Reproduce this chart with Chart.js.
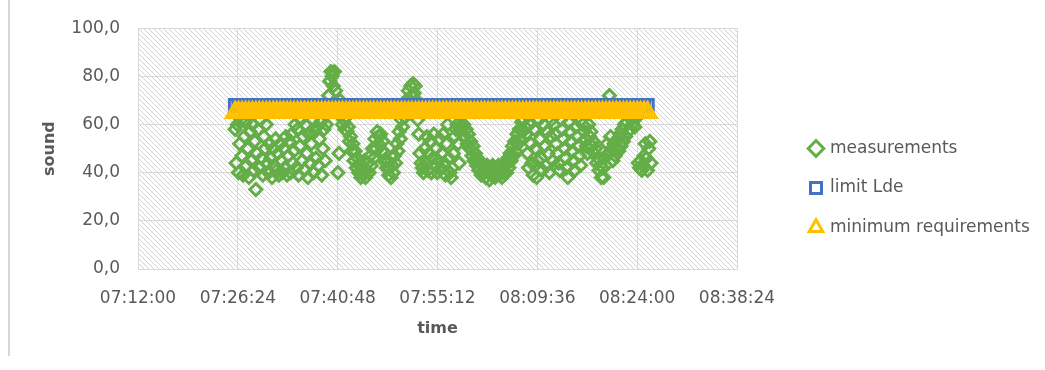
<!DOCTYPE html>
<html>
<head>
<meta charset="utf-8">
<script src="https://cdn.jsdelivr.net/npm/chart.js@4.4.0/dist/chart.umd.min.js"></script>
<style>
  body { margin: 0; background: #fff; }
  #wrap { position: relative; width: 1045px; height: 370px; }
  #edge { position: absolute; left: 8px; top: 0; width: 2px; height: 356px; background: #d6d6d6; }
  canvas { position: absolute; left: 0; top: 0; }
</style>
</head>
<body>
<div id="wrap"><div id="edge"></div><canvas id="soundChart" width="1045" height="370"></canvas></div>
<script>
// measurement times (every 10 s), one row per minute
const times = [
    '07:26:00', '07:26:10', '07:26:20', '07:26:30', '07:26:40', '07:26:50',
    '07:27:00', '07:27:10', '07:27:20', '07:27:30', '07:27:40', '07:27:50',
    '07:28:00', '07:28:10', '07:28:20', '07:28:30', '07:28:40', '07:28:50',
    '07:29:00', '07:29:10', '07:29:20', '07:29:30', '07:29:40', '07:29:50',
    '07:30:00', '07:30:10', '07:30:20', '07:30:30', '07:30:40', '07:30:50',
    '07:31:00', '07:31:10', '07:31:20', '07:31:30', '07:31:40', '07:31:50',
    '07:32:00', '07:32:10', '07:32:20', '07:32:30', '07:32:40', '07:32:50',
    '07:33:00', '07:33:10', '07:33:20', '07:33:30', '07:33:40', '07:33:50',
    '07:34:00', '07:34:10', '07:34:20', '07:34:30', '07:34:40', '07:34:50',
    '07:35:00', '07:35:10', '07:35:20', '07:35:30', '07:35:40', '07:35:50',
    '07:36:00', '07:36:10', '07:36:20', '07:36:30', '07:36:40', '07:36:50',
    '07:37:00', '07:37:10', '07:37:20', '07:37:30', '07:37:40', '07:37:50',
    '07:38:00', '07:38:10', '07:38:20', '07:38:30', '07:38:40', '07:38:50',
    '07:39:00', '07:39:10', '07:39:20', '07:39:30', '07:39:40', '07:39:50',
    '07:40:00', '07:40:10', '07:40:20', '07:40:30', '07:40:40', '07:40:50',
    '07:41:00', '07:41:10', '07:41:20', '07:41:30', '07:41:40', '07:41:50',
    '07:42:00', '07:42:10', '07:42:20', '07:42:30', '07:42:40', '07:42:50',
    '07:43:00', '07:43:10', '07:43:20', '07:43:30', '07:43:40', '07:43:50',
    '07:44:00', '07:44:10', '07:44:20', '07:44:30', '07:44:40', '07:44:50',
    '07:45:00', '07:45:10', '07:45:20', '07:45:30', '07:45:40', '07:45:50',
    '07:46:00', '07:46:10', '07:46:20', '07:46:30', '07:46:40', '07:46:50',
    '07:47:00', '07:47:10', '07:47:20', '07:47:30', '07:47:40', '07:47:50',
    '07:48:00', '07:48:10', '07:48:20', '07:48:30', '07:48:40', '07:48:50',
    '07:49:00', '07:49:10', '07:49:20', '07:49:30', '07:49:40', '07:49:50',
    '07:50:00', '07:50:10', '07:50:20', '07:50:30', '07:50:40', '07:50:50',
    '07:51:00', '07:51:10', '07:51:20', '07:51:30', '07:51:40', '07:51:50',
    '07:52:00', '07:52:10', '07:52:20', '07:52:30', '07:52:40', '07:52:50',
    '07:53:00', '07:53:10', '07:53:20', '07:53:30', '07:53:40', '07:53:50',
    '07:54:00', '07:54:10', '07:54:20', '07:54:30', '07:54:40', '07:54:50',
    '07:55:00', '07:55:10', '07:55:20', '07:55:30', '07:55:40', '07:55:50',
    '07:56:00', '07:56:10', '07:56:20', '07:56:30', '07:56:40', '07:56:50',
    '07:57:00', '07:57:10', '07:57:20', '07:57:30', '07:57:40', '07:57:50',
    '07:58:00', '07:58:10', '07:58:20', '07:58:30', '07:58:40', '07:58:50',
    '07:59:00', '07:59:10', '07:59:20', '07:59:30', '07:59:40', '07:59:50',
    '08:00:00', '08:00:10', '08:00:20', '08:00:30', '08:00:40', '08:00:50',
    '08:01:00', '08:01:10', '08:01:20', '08:01:30', '08:01:40', '08:01:50',
    '08:02:00', '08:02:10', '08:02:20', '08:02:30', '08:02:40', '08:02:50',
    '08:03:00', '08:03:10', '08:03:20', '08:03:30', '08:03:40', '08:03:50',
    '08:04:00', '08:04:10', '08:04:20', '08:04:30', '08:04:40', '08:04:50',
    '08:05:00', '08:05:10', '08:05:20', '08:05:30', '08:05:40', '08:05:50',
    '08:06:00', '08:06:10', '08:06:20', '08:06:30', '08:06:40', '08:06:50',
    '08:07:00', '08:07:10', '08:07:20', '08:07:30', '08:07:40', '08:07:50',
    '08:08:00', '08:08:10', '08:08:20', '08:08:30', '08:08:40', '08:08:50',
    '08:09:00', '08:09:10', '08:09:20', '08:09:30', '08:09:40', '08:09:50',
    '08:10:00', '08:10:10', '08:10:20', '08:10:30', '08:10:40', '08:10:50',
    '08:11:00', '08:11:10', '08:11:20', '08:11:30', '08:11:40', '08:11:50',
    '08:12:00', '08:12:10', '08:12:20', '08:12:30', '08:12:40', '08:12:50',
    '08:13:00', '08:13:10', '08:13:20', '08:13:30', '08:13:40', '08:13:50',
    '08:14:00', '08:14:10', '08:14:20', '08:14:30', '08:14:40', '08:14:50',
    '08:15:00', '08:15:10', '08:15:20', '08:15:30', '08:15:40', '08:15:50',
    '08:16:00', '08:16:10', '08:16:20', '08:16:30', '08:16:40', '08:16:50',
    '08:17:00', '08:17:10', '08:17:20', '08:17:30', '08:17:40', '08:17:50',
    '08:18:00', '08:18:10', '08:18:20', '08:18:30', '08:18:40', '08:18:50',
    '08:19:00', '08:19:10', '08:19:20', '08:19:30', '08:19:40', '08:19:50',
    '08:20:00', '08:20:10', '08:20:20', '08:20:30', '08:20:40', '08:20:50',
    '08:21:00', '08:21:10', '08:21:20', '08:21:30', '08:21:40', '08:21:50',
    '08:22:00', '08:22:10', '08:22:20', '08:22:30', '08:22:40', '08:22:50',
    '08:23:00', '08:23:10', '08:23:20', '08:23:30', '08:23:40', '08:23:50',
    '08:24:00', '08:24:10', '08:24:20', '08:24:30', '08:24:40', '08:24:50',
    '08:25:00', '08:25:10', '08:25:20', '08:25:30', '08:25:40', '08:25:50',
    '08:26:00'
];

const measurements = [
    58, 44, 60, 40, 52, 62,
    47, 39, 55, 61, 43, 50,
    38, 57, 45, 60, 41, 53,
    33, 48, 58, 42, 62, 46,
    39, 55, 50, 60, 44, 40,
    52, 46, 38, 50, 43, 54,
    41, 48, 39, 52, 45, 40,
    50, 42, 55, 39, 47, 53,
    40, 56, 44, 49, 60, 42,
    58, 39, 51, 62, 45, 55,
    41, 60, 48, 38, 56, 44,
    52, 62, 40, 57, 46, 59,
    43, 54, 61, 39, 50, 58,
    45, 60, 66, 72, 78, 82,
    80, 76, 82, 74, 68, 40,
    48, 70, 64, 60, 62, 58,
    63, 57, 59, 53, 55, 49,
    52, 45, 49, 42, 46, 40,
    44, 38, 42, 40, 45, 38,
    41, 44, 40, 47, 43, 50,
    46, 54, 50, 57, 52, 55,
    56, 49, 53, 45, 48, 42,
    45, 39, 42, 38, 43, 40,
    47, 44, 52, 49, 57, 54,
    62, 59, 67, 63, 70, 66,
    74, 70, 76, 72, 77, 73,
    76, 70, 62, 56, 48, 44,
    42, 40, 50, 44, 55, 41,
    48, 53, 40, 46, 56, 43,
    50, 40, 45, 54, 42, 48,
    56, 44, 39, 52, 60, 46,
    40, 38, 42, 48, 55, 58,
    60, 52, 44, 58, 60, 59,
    60, 55, 58, 52, 56, 50,
    53, 47, 51, 45, 48, 43,
    46, 41, 44, 39, 43, 40,
    42, 38, 43, 40, 37, 42,
    39, 43, 40, 38, 42, 40,
    43, 39, 41, 38, 42, 40,
    44, 40, 46, 42, 48, 45,
    51, 47, 53, 49, 56, 52,
    58, 54, 61, 57, 62, 59,
    56, 48, 42, 60, 52, 44,
    39, 58, 50, 38, 45, 62,
    54, 46, 41, 60, 51, 43,
    57, 48, 40, 55, 62, 45,
    60, 56, 52, 48, 44, 41,
    62, 58, 54, 50, 46, 42,
    38, 61, 57, 53, 49, 45,
    41, 59, 55, 51, 47, 43,
    62, 60, 57, 54, 51, 48,
    60, 55, 57, 51, 53, 48,
    50, 44, 46, 41, 43, 38,
    42, 38, 46, 43, 52, 48,
    72, 55, 50, 45, 52, 47,
    50, 54, 49, 56, 51, 58,
    53, 60, 55, 61, 57, 63,
    58, 62, 60, 64, 59, 63,
    63, 44, 42, 45, 41, 43,
    47, 52, 46, 41, 50, 53,
    44
];

// limit lines (every 30 s)
const limitTimes = [
    '07:26:00', '07:26:30', '07:27:00', '07:27:30', '07:28:00', '07:28:30', '07:29:00', '07:29:30', '07:30:00', '07:30:30',
    '07:31:00', '07:31:30', '07:32:00', '07:32:30', '07:33:00', '07:33:30', '07:34:00', '07:34:30', '07:35:00', '07:35:30',
    '07:36:00', '07:36:30', '07:37:00', '07:37:30', '07:38:00', '07:38:30', '07:39:00', '07:39:30', '07:40:00', '07:40:30',
    '07:41:00', '07:41:30', '07:42:00', '07:42:30', '07:43:00', '07:43:30', '07:44:00', '07:44:30', '07:45:00', '07:45:30',
    '07:46:00', '07:46:30', '07:47:00', '07:47:30', '07:48:00', '07:48:30', '07:49:00', '07:49:30', '07:50:00', '07:50:30',
    '07:51:00', '07:51:30', '07:52:00', '07:52:30', '07:53:00', '07:53:30', '07:54:00', '07:54:30', '07:55:00', '07:55:30',
    '07:56:00', '07:56:30', '07:57:00', '07:57:30', '07:58:00', '07:58:30', '07:59:00', '07:59:30', '08:00:00', '08:00:30',
    '08:01:00', '08:01:30', '08:02:00', '08:02:30', '08:03:00', '08:03:30', '08:04:00', '08:04:30', '08:05:00', '08:05:30',
    '08:06:00', '08:06:30', '08:07:00', '08:07:30', '08:08:00', '08:08:30', '08:09:00', '08:09:30', '08:10:00', '08:10:30',
    '08:11:00', '08:11:30', '08:12:00', '08:12:30', '08:13:00', '08:13:30', '08:14:00', '08:14:30', '08:15:00', '08:15:30',
    '08:16:00', '08:16:30', '08:17:00', '08:17:30', '08:18:00', '08:18:30', '08:19:00', '08:19:30', '08:20:00', '08:20:30',
    '08:21:00', '08:21:30', '08:22:00', '08:22:30', '08:23:00', '08:23:30', '08:24:00', '08:24:30', '08:25:00', '08:25:30'
];

const limitLde = [
    68, 68, 68, 68, 68, 68, 68, 68, 68, 68, 68, 68, 68, 68, 68, 68, 68, 68, 68, 68,
    68, 68, 68, 68, 68, 68, 68, 68, 68, 68, 68, 68, 68, 68, 68, 68, 68, 68, 68, 68,
    68, 68, 68, 68, 68, 68, 68, 68, 68, 68, 68, 68, 68, 68, 68, 68, 68, 68, 68, 68,
    68, 68, 68, 68, 68, 68, 68, 68, 68, 68, 68, 68, 68, 68, 68, 68, 68, 68, 68, 68,
    68, 68, 68, 68, 68, 68, 68, 68, 68, 68, 68, 68, 68, 68, 68, 68, 68, 68, 68, 68,
    68, 68, 68, 68, 68, 68, 68, 68, 68, 68, 68, 68, 68, 68, 68, 68, 68, 68, 68, 68
];

const minimumRequirements = [
    65, 65, 65, 65, 65, 65, 65, 65, 65, 65, 65, 65, 65, 65, 65, 65, 65, 65, 65, 65,
    65, 65, 65, 65, 65, 65, 65, 65, 65, 65, 65, 65, 65, 65, 65, 65, 65, 65, 65, 65,
    65, 65, 65, 65, 65, 65, 65, 65, 65, 65, 65, 65, 65, 65, 65, 65, 65, 65, 65, 65,
    65, 65, 65, 65, 65, 65, 65, 65, 65, 65, 65, 65, 65, 65, 65, 65, 65, 65, 65, 65,
    65, 65, 65, 65, 65, 65, 65, 65, 65, 65, 65, 65, 65, 65, 65, 65, 65, 65, 65, 65,
    65, 65, 65, 65, 65, 65, 65, 65, 65, 65, 65, 65, 65, 65, 65, 65, 65, 65, 65, 65
];

const xTickLabels = ['07:12:00', '07:26:24', '07:40:48', '07:55:12', '08:09:36', '08:24:00', '08:38:24'];
const yTickLabels = ['0,0', '20,0', '40,0', '60,0', '80,0', '100,0'];

const textColor = '#595959';
const gridColor = '#d9d9d9';

// "hh:mm:ss" -> seconds
function toSec(s) {
    const p = s.split(':').map(Number);
    return p[0] * 3600 + p[1] * 60 + p[2];
}

function points(t, values) {
    return values.map((v, i) => ({ x: toSec(t[i]), y: v }));
}

// diagonal hatch behind the plot area
const hatchPlugin = {
    id: 'hatch',
    beforeDraw(chart) {
        const { ctx, chartArea: a } = chart;
        const tile = document.createElement('canvas');
        tile.width = 5;
        tile.height = 5;
        const t = tile.getContext('2d');
        t.strokeStyle = '#d3d3d3';
        t.lineWidth = 1;
        t.beginPath();
        t.moveTo(0, 0); t.lineTo(5, 5);
        t.moveTo(-1, 4); t.lineTo(1, 6);
        t.moveTo(4, -1); t.lineTo(6, 1);
        t.stroke();
        ctx.save();
        ctx.fillStyle = ctx.createPattern(tile, 'repeat');
        ctx.fillRect(a.left, a.top, a.width, a.height);
        ctx.restore();
    }
};

// push the legend away from the plot, like the excel sheet
const legendShift = {
    id: 'legendShift',
    afterLayout(chart) {
        const lg = chart.legend;
        lg.left += 51;
        lg.right += 51;
        lg.top -= 11;
        lg.bottom -= 11;
    }
};

Chart.defaults.font.family = '"DejaVu Sans", sans-serif';
Chart.defaults.color = textColor;

new Chart(document.getElementById('soundChart'), {
    type: 'scatter',
    data: {
        datasets: [{
            label: 'measurements',
            data: points(times, measurements),
            pointStyle: 'rectRot',
            pointRadius: 6,
            pointBorderWidth: 3,
            borderColor: '#64ae47',
            backgroundColor: 'rgba(255,255,255,0)',
            order: 3
        }, {
            label: 'limit Lde',
            data: points(limitTimes, limitLde),
            pointStyle: 'rect',
            pointRadius: 8,
            pointBorderWidth: 3,
            borderColor: '#4472c4',
            backgroundColor: 'rgba(255,255,255,0)',
            order: 2
        }, {
            label: 'minimum requirements',
            data: points(limitTimes, minimumRequirements),
            pointStyle: 'triangle',
            pointRadius: 10,
            pointBorderWidth: 3,
            borderColor: '#ffc000',
            backgroundColor: 'rgba(255,255,255,0)',
            order: 1
        }]
    },
    options: {
        responsive: false,
        animation: false,
        events: [],
        layout: {
            padding: { top: 28, left: 0, right: 0, bottom: 0 }
        },
        plugins: {
            tooltip: { enabled: false },
            legend: {
                position: 'right',
                labels: {
                    usePointStyle: true,
                    boxWidth: 11,
                    boxHeight: 11,
                    padding: 22.5,
                    color: textColor,
                    font: { size: 17 },
                    sort: (a, b) => a.datasetIndex - b.datasetIndex
                }
            }
        },
        scales: {
            x: {
                type: 'linear',
                min: toSec(xTickLabels[0]),
                max: toSec(xTickLabels[xTickLabels.length - 1]),
                afterFit: (scale) => {
                    scale.height = 101;
                    scale.paddingRight = 308;
                },
                ticks: {
                    stepSize: 864,
                    padding: 19,
                    maxRotation: 0,
                    autoSkip: false,
                    color: textColor,
                    font: { size: 17 },
                    callback: (value, index) => xTickLabels[index]
                },
                grid: { color: gridColor, drawTicks: false },
                border: { color: gridColor },
                title: {
                    display: true,
                    text: 'time',
                    color: textColor,
                    font: { size: 16, weight: 'bold' },
                    padding: { top: 0, bottom: 32 }
                }
            },
            y: {
                min: 0,
                max: 100,
                afterFit: (scale) => {
                    scale.width = 138;
                },
                ticks: {
                    stepSize: 20,
                    padding: 18,
                    color: textColor,
                    font: { size: 17 },
                    callback: (value, index) => yTickLabels[index]
                },
                grid: { color: gridColor, drawTicks: false },
                border: { color: gridColor },
                title: {
                    display: true,
                    text: 'sound',
                    color: textColor,
                    font: { size: 16, weight: 'bold' },
                    padding: { top: 40, bottom: 0 }
                }
            }
        }
    },
    plugins: [hatchPlugin, legendShift]
});
</script>
</body>
</html>
